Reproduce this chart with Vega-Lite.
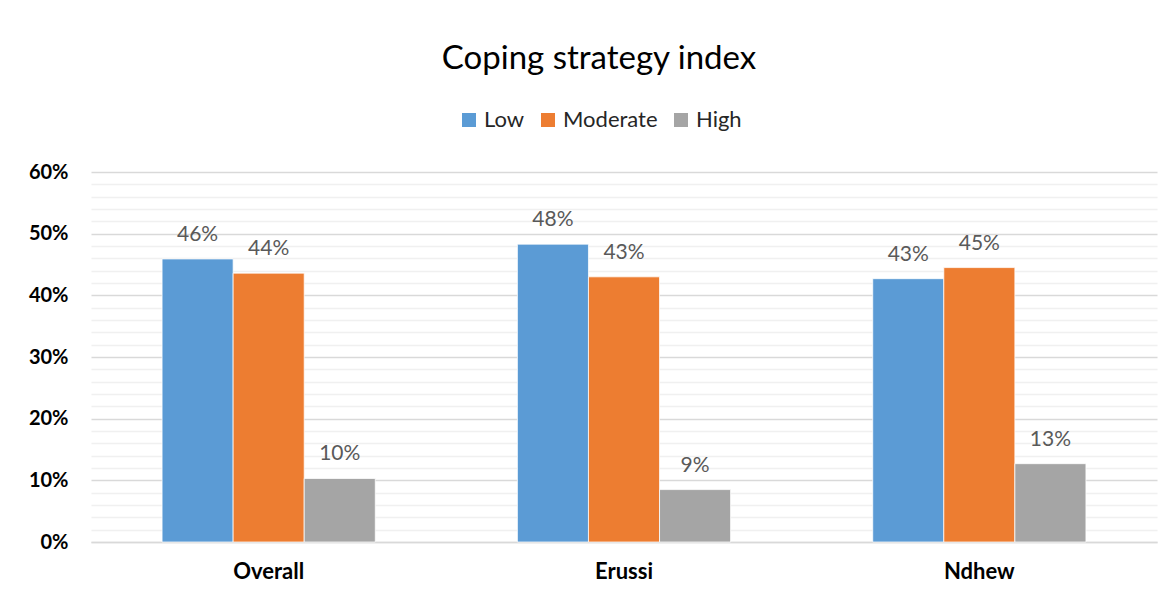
{
  "$schema": "https://vega.github.io/schema/vega-lite/v6.json",
  "width": 1066,
  "height": 370,
  "autosize": {"type": "none"},
  "padding": {"left": 91, "top": 172, "right": 16, "bottom": 54},
  "background": "white",
  "title": {
    "text": "Coping strategy index",
    "anchor": "middle",
    "frame": "group",
    "dx": -25,
    "offset": 33,
    "font": "Lato",
    "fontSize": 33,
    "fontWeight": "normal",
    "color": "#000000"
  },
  "data": {
    "values": [
      {"area": "Overall", "level": "Low", "share": 0.459},
      {"area": "Overall", "level": "Moderate", "share": 0.436},
      {"area": "Overall", "level": "High", "share": 0.103},
      {"area": "Erussi", "level": "Low", "share": 0.483},
      {"area": "Erussi", "level": "Moderate", "share": 0.430},
      {"area": "Erussi", "level": "High", "share": 0.085},
      {"area": "Ndhew", "level": "Low", "share": 0.427},
      {"area": "Ndhew", "level": "Moderate", "share": 0.445},
      {"area": "Ndhew", "level": "High", "share": 0.127}
    ]
  },
  "encoding": {
    "x": {
      "field": "area",
      "type": "nominal",
      "sort": ["Overall", "Erussi", "Ndhew"],
      "scale": {"paddingInner": 0.4, "paddingOuter": 0.2},
      "axis": {
        "title": null,
        "labelAngle": 0,
        "ticks": false,
        "domain": true,
        "domainColor": "#d9d9d9",
        "domainWidth": 1.5,
        "labelPadding": 19,
        "labelFont": "Lato",
        "labelFontSize": 22,
        "labelFontWeight": "bold",
        "labelColor": "#000000"
      }
    },
    "xOffset": {
      "field": "level",
      "type": "nominal",
      "sort": ["Low", "Moderate", "High"],
      "scale": {"paddingInner": 0, "paddingOuter": 0}
    },
    "y": {
      "field": "share",
      "type": "quantitative",
      "scale": {"domain": [0, 0.6], "nice": false},
      "axis": {
        "title": null,
        "values": [0, 0.02, 0.04, 0.06, 0.08, 0.1, 0.12, 0.14, 0.16, 0.18, 0.2, 0.22, 0.24, 0.26, 0.28, 0.3, 0.32, 0.34, 0.36, 0.38, 0.4, 0.42, 0.44, 0.46, 0.48, 0.5, 0.52, 0.54, 0.56, 0.58, 0.6],
        "labelExpr": "round(datum.value * 100) % 10 === 0 ? format(datum.value, '.0%') : ''",
        "domain": false,
        "ticks": false,
        "grid": true,
        "gridColor": {
          "condition": {"test": "round(datum.value * 100) % 10 === 0", "value": "#d9d9d9"},
          "value": "#f0f0f0"
        },
        "gridWidth": 1.5,
        "labelPadding": 23,
        "labelFont": "Lato",
        "labelFontSize": 20,
        "labelFontWeight": "bold",
        "labelColor": "#000000"
      }
    }
  },
  "layer": [
    {
      "mark": {"type": "bar", "stroke": "white", "strokeWidth": 0.75},
      "encoding": {
        "color": {
          "field": "level",
          "type": "nominal",
          "sort": ["Low", "Moderate", "High"],
          "scale": {"domain": ["Low", "Moderate", "High"], "range": ["#5b9bd5", "#ed7d31", "#a5a5a5"]},
          "legend": {
            "title": null,
            "orient": "none",
            "direction": "horizontal",
            "legendX": 367,
            "legendY": -63,
            "padding": 0,
            "symbolType": "square",
            "symbolSize": 196,
            "symbolStrokeWidth": 0,
            "labelFont": "Lato",
            "labelFontSize": 22,
            "labelColor": "#262626",
            "labelOffset": 4,
            "columnPadding": 12
          }
        }
      }
    },
    {
      "mark": {
        "type": "text",
        "baseline": "alphabetic",
        "dy": -18,
        "font": "Lato",
        "fontSize": 21,
        "color": "#595959"
      },
      "encoding": {
        "text": {"field": "share", "type": "quantitative", "format": ".0%"}
      }
    }
  ],
  "config": {
    "view": {"stroke": null}
  }
}
